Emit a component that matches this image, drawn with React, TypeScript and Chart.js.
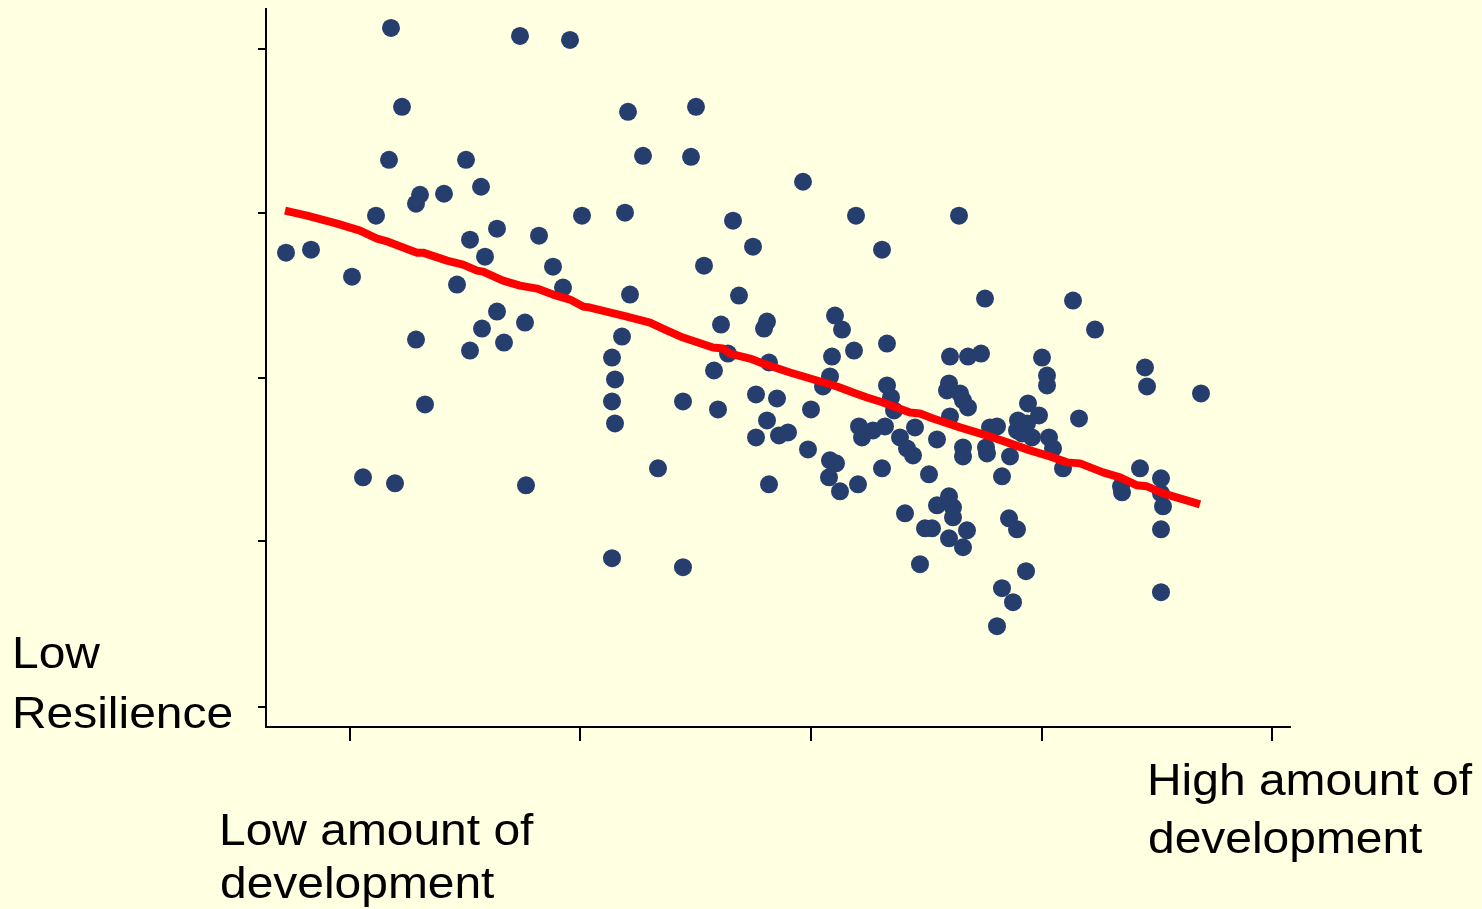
import React, { useEffect, useRef } from "react";
import { Chart, registerables } from "chart.js";

Chart.register(...registerables);

// Development index (x) and resilience index (y) of each observation
const devValues: number[] = [
  2.0, 4.5, 8.6, 11.0, 12.5, 12.3, 13.6, 15.4, 15.0, 17.8, 21.5, 20.0, 20.4, 23.1, 21.9, 27.3,
  28.7, 29.7, 19.1, 23.1, 25.9, 21.6, 15.0, 20.4, 23.8, 15.9, 9.7, 12.9, 26.0, 25.4, 30.4, 31.6,
  36.2, 43.0, 37.7, 42.5, 53.7, 35.9, 46.7, 59.0, 48.7, 61.6, 43.8, 36.4, 47.3, 45.5, 50.1, 49.8,
  56.9, 57.6, 35.6, 34.6, 34.9, 34.6, 34.9, 46.2, 44.8, 50.3, 56.6, 58.8, 62.1, 56.4, 55.7, 62.1,
  62.5, 62.8, 41.7, 45.2, 49.0, 51.1, 54.5, 50.1, 49.0, 51.3, 52.2, 59.3, 59.6, 60.7, 61.9, 63.4,
  64.1, 54.2, 56.4, 57.0, 56.3, 57.4, 59.2, 61.6, 50.3, 39.2, 63.9, 34.6, 41.7,
  69.3, 71.9, 80.7, 82.9, 68.4, 70.2, 71.5, 77.6, 87.9, 88.1, 93.5, 78.1, 78.1, 68.3, 68.1, 69.4,
  69.7, 70.2, 68.4, 76.2, 77.3, 81.3, 64.9, 67.1, 72.4, 73.1, 75.2, 76.1, 75.1, 76.6, 75.6, 78.3,
  78.7, 69.7, 69.7, 72.0, 72.1, 74.4, 79.7, 73.6, 66.3, 64.7, 87.4, 85.5, 85.6, 89.5, 89.5, 89.7,
  89.5, 89.5, 68.3, 67.1, 68.7, 68.7, 66.6, 65.9, 68.3, 70.1, 69.7, 74.3, 75.1, 65.4, 76.0, 73.6,
  74.7, 73.1,
];

const resilienceValues: number[] = [
  47.5, 47.8, 45.1, 51.2, 70.0, 56.8, 62.1, 53.3, 52.4, 53.4, 54.1, 56.8, 48.8, 49.9, 47.1, 49.2,
  46.1, 44.0, 44.3, 41.6, 40.5, 39.9, 38.8, 37.7, 38.5, 32.3, 25.0, 24.4, 24.2, 69.2, 68.8, 51.2,
  61.6, 62.1, 57.2, 57.1, 54.6, 51.5, 50.7, 51.2, 48.1, 47.8, 46.2, 43.3, 43.2, 40.3, 40.6, 39.9,
  41.2, 39.8, 39.1, 37.0, 34.8, 32.6, 30.4, 37.4, 35.7, 36.5, 37.1, 37.7, 38.4, 35.1, 34.1, 34.2,
  33.0, 31.7, 32.6, 31.8, 33.3, 32.9, 31.8, 30.7, 29.0, 29.2, 29.5, 30.1, 29.0, 29.7, 30.1, 29.0,
  27.9, 27.8, 26.7, 26.4, 25.0, 23.6, 24.3, 25.9, 24.3, 25.9, 21.4, 16.9, 16.0,
  51.2, 42.9, 42.7, 39.8, 37.1, 37.1, 37.4, 37.0, 36.0, 34.1, 33.4, 35.2, 34.2, 34.4, 33.7, 33.4,
  32.7, 32.0, 31.1, 32.4, 31.2, 30.9, 30.0, 28.8, 30.0, 30.1, 30.7, 30.4, 29.7, 29.0, 29.4, 29.0,
  27.9, 28.0, 27.1, 28.0, 27.4, 27.1, 25.9, 25.1, 25.3, 27.2, 25.9, 24.1, 23.5, 24.9, 23.4, 22.1,
  19.8, 13.5, 23.1, 22.2, 22.0, 21.0, 19.9, 19.9, 18.9, 19.7, 18.0, 20.9, 19.8, 16.3, 15.6, 13.9,
  12.5, 10.1,
];

// Smoothed trend (development -> resilience)
const trendDev: number[] = [
  1.9, 4.1, 7.1, 9.4, 11.1, 12.2, 15.1, 15.7, 18.1, 19.7, 21.1, 21.7, 23.7, 25.4, 27.1, 28.7,
  30.4, 31.7, 32.4, 35.7, 38.4, 39.9, 41.7, 44.7, 45.7, 46.4, 48.4, 49.7, 52.4, 55.1, 57.1, 58.7,
  60.1, 61.7, 64.4, 65.4, 66.7, 69.4, 72.7, 74.4, 76.4, 78.4, 80.1, 81.4, 83.7, 85.4, 87.1, 88.1,
  89.7, 93.4,
];
const trendRes: number[] = [
  51.7, 51.2, 50.4, 49.7, 48.9, 48.6, 47.5, 47.5, 46.7, 46.3, 45.7, 45.6, 44.7, 44.2, 43.9, 43.3,
  42.8, 42.1, 42.0, 41.2, 40.5, 39.8, 39.0, 38.0, 37.9, 37.4, 36.9, 36.4, 35.5, 34.7, 34.1, 33.5,
  33.0, 32.5, 31.5, 31.4, 30.9, 30.0, 29.0, 28.4, 27.7, 27.1, 26.5, 26.4, 25.5, 25.0, 24.2, 24.1,
  23.4, 22.3,
];

const xTickValues: number[] = [8.4, 31.4, 54.5, 77.6, 100.6];
const yTickValues: number[] = [2.0, 18.6, 34.9, 51.5, 67.9];

const yLabelLines: string[] = ["Low", "Resilience"];
const xLowLabelLines: string[] = ["Low amount of", "development"];
const xHighLabelLines: string[] = ["High amount of", "development"];

const BG = "#FFFFE2";

export default function App() {
  const canvasRef = useRef<HTMLCanvasElement | null>(null);

  useEffect(() => {
    const canvas = canvasRef.current;
    if (!canvas) return;

    const points = devValues.map((x, i) => ({ x, y: resilienceValues[i] }));
    const trend = trendDev.map((x, i) => ({ x, y: trendRes[i] }));

    const textPlugin = {
      id: "cornerLabels",
      afterDraw(chart: any) {
        const ctx = chart.ctx as CanvasRenderingContext2D;
        ctx.save();
        ctx.fillStyle = "#000";
        ctx.font = '45px "Liberation Sans", Arial, sans-serif';
        ctx.textBaseline = "alphabetic";
        ctx.textAlign = "left";
        const put = (t: string, x: number, y: number) => {
          ctx.save();
          ctx.translate(x, y);
          ctx.scale(1.065, 1);
          ctx.fillText(t, 0, 0);
          ctx.restore();
        };
        put(yLabelLines[0], 12, 668);
        put(yLabelLines[1], 12, 728);
        put(xLowLabelLines[0], 219, 845);
        put(xLowLabelLines[1], 220, 898);
        put(xHighLabelLines[0], 1147, 795);
        put(xHighLabelLines[1], 1148, 853);
        ctx.restore();
      },
    };

    const chart = new Chart(canvas, {
      type: "scatter",
      data: {
        datasets: [
          {
            label: "Trend",
            data: trend,
            showLine: true,
            borderColor: "#FF0000",
            borderWidth: 8,
            borderJoinStyle: "round",
            pointRadius: 0,
            pointHoverRadius: 0,
            order: 0,
          } as any,
          {
            label: "Observations",
            data: points,
            backgroundColor: "#263E6D",
            borderWidth: 0,
            pointRadius: 9,
            pointHoverRadius: 9,
            order: 1,
          },
        ],
      },
      options: {
        animation: false,
        responsive: false,
        maintainAspectRatio: false,
        events: [],
        layout: { padding: { left: 258, top: 8, right: 192, bottom: 168 } },
        plugins: {
          legend: { display: false },
          tooltip: { enabled: false },
          title: { display: false },
        },
        scales: {
          x: {
            type: "linear",
            min: 0,
            max: 102.4,
            afterBuildTicks: (s: any) => {
              s.ticks = xTickValues.map((v) => ({ value: v }));
            },
            ticks: { display: false },
            grid: {
              display: true,
              drawOnChartArea: false,
              drawTicks: true,
              tickLength: 14,
              color: "#000",
              lineWidth: 2,
            },
            border: { display: true, color: "#000", width: 2 },
          },
          y: {
            type: "linear",
            min: 0,
            max: 71.9,
            afterBuildTicks: (s: any) => {
              s.ticks = yTickValues.map((v) => ({ value: v }));
            },
            ticks: { display: false },
            grid: {
              display: true,
              drawOnChartArea: false,
              drawTicks: true,
              tickLength: 8,
              color: "#000",
              lineWidth: 2,
            },
            border: { display: true, color: "#000", width: 2 },
          },
        },
      },
      plugins: [textPlugin],
    });

    return () => chart.destroy();
  }, []);

  return (
    <div
      style={{
        position: "fixed",
        left: 0,
        top: 0,
        width: 1482,
        height: 909,
        background: BG,
        overflow: "hidden",
      }}
    >
      <canvas ref={canvasRef} width={1482} height={909} style={{ display: "block" }} />
    </div>
  );
}
